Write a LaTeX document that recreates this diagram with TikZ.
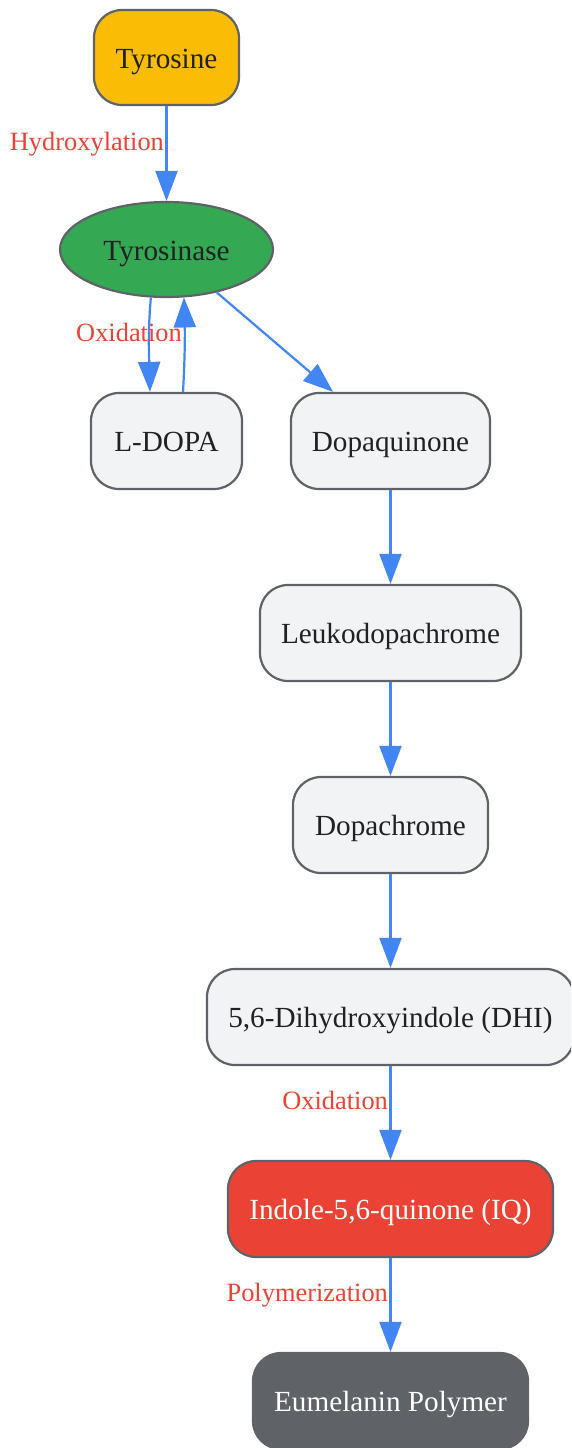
\documentclass[tikz,border=0pt]{standalone}
\usepackage{fontspec}
\setmainfont{Liberation Serif}
\usetikzlibrary{arrows.meta,shapes.geometric,calc}
\definecolor{bordc}{HTML}{5F6368}
\definecolor{edgec}{HTML}{4285F4}
\definecolor{lblc}{HTML}{EA4335}
\definecolor{txtc}{HTML}{202124}
\definecolor{lightc}{HTML}{F1F3F4}
\definecolor{yellowc}{HTML}{FBBC05}
\definecolor{greenc}{HTML}{34A853}
\definecolor{redc}{HTML}{EA4335}
\definecolor{greyc}{HTML}{5F6368}
\begin{document}
\begin{tikzpicture}[x=1pt,y=1pt,
  box/.style={draw=bordc, line width=2.2pt, rounded corners=28pt, fill=lightc,
    text=txtc, minimum height=96pt, inner sep=0pt, text height=21pt, text depth=0pt,
    font=\fontsize{29.2}{34}\selectfont},
  edge/.style={draw=edgec, line width=2.2pt, -{Triangle[length=30pt,width=22pt]}},
  lbl/.style={text=lblc, inner sep=1.5pt, font=\fontsize{26.4}{30}\selectfont}]
\clip (0,0) rectangle (571,-1448);
\node[box, fill=yellowc, minimum width=145pt, minimum height=95pt] (tyr) at (166.5,-57.5) {Tyrosine};
\node[draw=bordc, line width=2.2pt, ellipse, fill=greenc, text=txtc, inner sep=0pt,
  text height=21pt, text depth=0pt,
  minimum width=213pt, minimum height=95pt, font=\fontsize{29.2}{34}\selectfont] (tsn) at (166.5,-249.5) {Tyrosinase};
\node[box, minimum width=151pt] (ldopa) at (166.5,-441) {L-DOPA};
\node[box, minimum width=199pt] (dq) at (390.5,-441) {Dopaquinone};
\node[box, minimum width=261pt] (leuko) at (390.5,-633) {Leukodopachrome};
\node[box, minimum width=195pt] (dc) at (390.5,-825) {Dopachrome};
\node[box, minimum width=367pt] (dhi) at (390.5,-1017) {5,6-Dihydroxyindole (DHI)};
\node[box, fill=redc, text=white, minimum width=325pt] (iq) at (390.5,-1209) {Indole-5,6-quinone (IQ)};
\node[box, fill=greyc, text=white, minimum width=275pt] (eu) at (390.5,-1401) {Eumelanin Polymer};

\draw[edge] (tyr) -- node[lbl, pos=0.40, anchor=east] {Hydroxylation} (tsn);
\draw[edge] (tsn.-108) .. controls +(-3,-33) and +(-1,38) .. ($(ldopa.north)+(-16.5,0)$)
  node[lbl, pos=0.38, xshift=-20pt] {Oxidation};
\draw[edge] ($(ldopa.north)+(16.5,0)$) .. controls +(2,35) and +(1,-35) .. (tsn.-70.6);
\draw[edge] (tsn) -- (dq);
\draw[edge] (dq) -- (leuko);
\draw[edge] (leuko) -- (dc);
\draw[edge] (dc) -- (dhi);
\draw[edge] (dhi) -- node[lbl, pos=0.365, anchor=east] {Oxidation} (iq);
\draw[edge] (iq) -- node[lbl, pos=0.39, anchor=east] {Polymerization} (eu);
\end{tikzpicture}
\end{document}
